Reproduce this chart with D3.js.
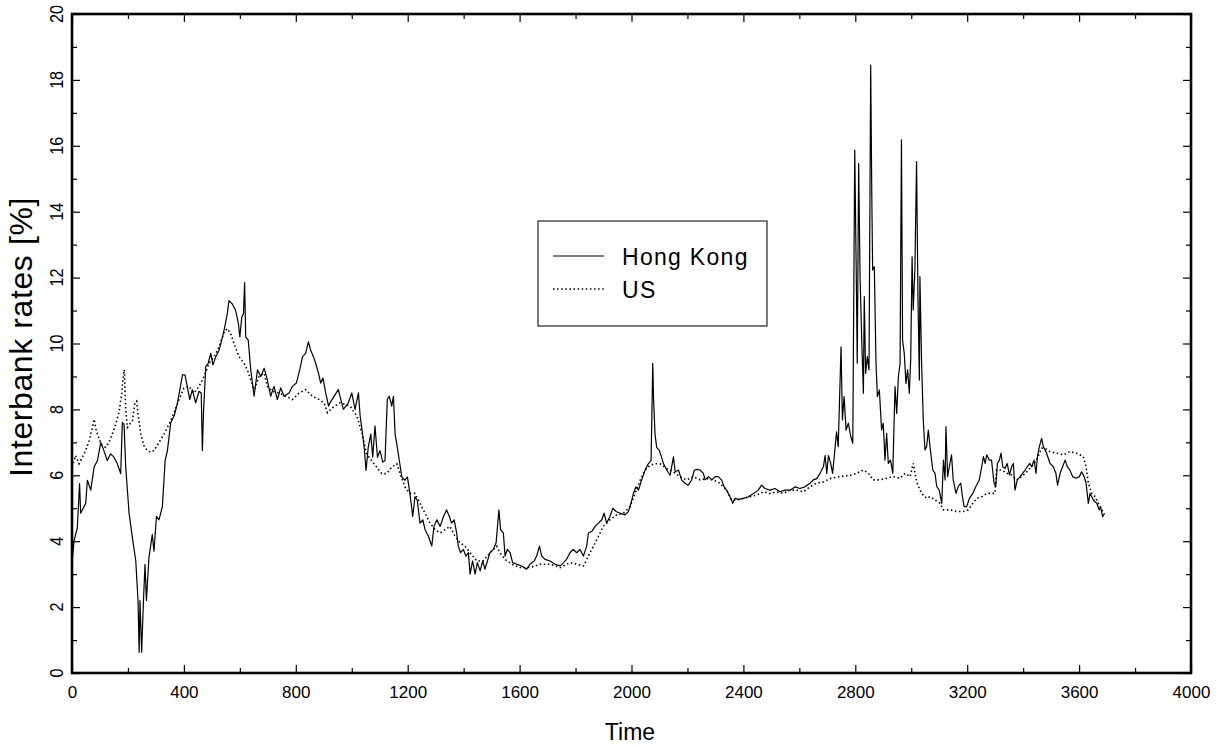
<!DOCTYPE html>
<html>
<head>
<meta charset="utf-8">
<script src="https://cdn.jsdelivr.net/npm/d3@7"></script>
<style>
  html, body { margin: 0; padding: 0; background: #fff; }
  svg text { font-family: "Liberation Sans", Arial, Helvetica, sans-serif; fill: #000; }
</style>
</head>
<body>
<svg id="chart" width="1220" height="745"></svg>
<script>
// Hong Kong interbank rate (time index, percent)
const hkTime = [0, 7, 19, 27, 31, 49, 55, 67, 79, 91, 103, 114, 126, 138, 150, 162, 174, 180, 186, 192,
  204, 216, 228, 236, 240, 243, 249, 255, 261, 266, 275, 287, 293, 302, 311, 323, 333, 341, 353, 365,
  377, 395, 404, 412, 421, 430, 442, 454, 462, 466, 470, 478, 487, 496, 504, 514, 526, 538, 546, 555,
  561, 573, 585, 595, 600, 607, 613, 617, 621, 630, 639, 651, 663, 675, 687, 698, 710, 722, 734, 746,
  758, 776, 788, 802, 814, 824, 835, 845, 853, 863, 871, 881, 889, 897, 907, 917, 922, 952, 970, 988,
  1000, 1012, 1024, 1030, 1038, 1045, 1051, 1059, 1068, 1075, 1083, 1092, 1101, 1111, 1119, 1127, 1134, 1143, 1149, 1155,
  1163, 1170, 1179, 1190, 1199, 1208, 1218, 1226, 1234, 1244, 1254, 1262, 1274, 1286, 1294, 1304, 1316, 1328, 1339, 1349,
  1357, 1366, 1375, 1381, 1389, 1399, 1408, 1417, 1423, 1432, 1441, 1449, 1459, 1468, 1476, 1485, 1494, 1506, 1516, 1522,
  1526, 1532, 1542, 1548, 1556, 1566, 1575, 1590, 1607, 1625, 1637, 1652, 1661, 1671, 1679, 1691, 1709, 1727, 1745, 1757,
  1768, 1780, 1792, 1804, 1816, 1828, 1840, 1846, 1858, 1870, 1882, 1894, 1902, 1911, 1923, 1933, 1945, 1959, 1977, 1989,
  1998, 2007, 2016, 2025, 2036, 2048, 2060, 2070, 2076, 2079, 2084, 2090, 2100, 2114, 2126, 2138, 2150, 2156, 2168, 2179,
  2191, 2203, 2215, 2225, 2233, 2245, 2257, 2263, 2275, 2287, 2299, 2310, 2322, 2331, 2340, 2352, 2362, 2370, 2382, 2400,
  2418, 2436, 2453, 2465, 2477, 2495, 2513, 2531, 2549, 2567, 2585, 2602, 2620, 2638, 2650, 2662, 2674, 2686, 2692, 2698,
  2704, 2712, 2719, 2727, 2733, 2739, 2749, 2754, 2760, 2767, 2775, 2784, 2791, 2798, 2803, 2807, 2812, 2817, 2823, 2829,
  2832, 2837, 2843, 2849, 2855, 2859, 2862, 2868, 2874, 2879, 2886, 2894, 2900, 2906, 2912, 2918, 2926, 2934, 2942, 2948,
  2954, 2960, 2965, 2969, 2975, 2981, 2987, 2993, 2998, 3003, 3007, 3013, 3019, 3024, 3029, 3031, 3037, 3043, 3049, 3055,
  3061, 3067, 3077, 3085, 3091, 3100, 3109, 3115, 3121, 3124, 3130, 3136, 3144, 3150, 3160, 3168, 3177, 3183, 3189, 3198,
  3208, 3220, 3231, 3243, 3252, 3258, 3264, 3270, 3279, 3287, 3296, 3302, 3308, 3315, 3321, 3327, 3335, 3343, 3351, 3359,
  3365, 3371, 3379, 3389, 3398, 3407, 3415, 3424, 3430, 3439, 3446, 3451, 3458, 3466, 3472, 3484, 3496, 3508, 3517, 3523,
  3532, 3541, 3550, 3558, 3567, 3577, 3589, 3601, 3609, 3618, 3625, 3629, 3633, 3639, 3651, 3663, 3672, 3677, 3684, 3691];
const hkRate = [3.3, 4.0, 4.4, 5.75, 4.85, 5.15, 5.85, 5.55, 6.25, 6.45, 7.0, 6.75, 6.45, 6.65, 6.55, 6.35, 6.05, 7.6, 7.55, 6.25,
  4.85, 4.1, 3.4, 2.2, 0.63, 2.2, 0.63, 2.1, 3.3, 2.2, 3.5, 4.2, 3.7, 4.75, 4.65, 5.05, 6.45, 6.75, 7.6, 7.8,
  8.2, 9.05, 9.05, 8.7, 8.3, 8.6, 8.2, 8.55, 8.5, 6.75, 7.9, 9.3, 9.4, 9.7, 9.35, 9.6, 9.8, 10.2, 10.5, 10.9,
  11.3, 11.2, 11.0, 10.6, 10.2, 10.8, 10.9, 11.85, 10.2, 10.1, 9.2, 8.4, 9.2, 9.0, 9.25, 8.9, 8.4, 8.7, 8.3, 8.65,
  8.4, 8.5, 8.7, 8.8, 9.2, 9.6, 9.7, 10.05, 9.8, 9.6, 9.4, 9.1, 8.8, 8.95, 8.5, 8.1, 8.2, 8.6, 8.0, 8.2,
  8.5, 8.0, 8.5, 7.8, 7.3, 6.8, 6.15, 6.85, 7.25, 6.55, 7.5, 6.55, 6.75, 6.4, 6.45, 8.3, 8.4, 8.1, 8.4, 7.25,
  6.85, 6.45, 5.95, 5.85, 5.95, 5.45, 4.75, 5.35, 5.25, 4.55, 4.65, 4.35, 4.15, 3.85, 4.45, 4.65, 4.45, 4.75, 4.95, 4.75,
  4.55, 4.65, 4.25, 3.85, 3.65, 3.75, 3.55, 3.65, 3.0, 3.4, 3.0, 3.35, 3.1, 3.4, 3.15, 3.4, 3.65, 3.75, 3.95, 4.55,
  4.95, 4.35, 4.25, 3.55, 3.75, 3.65, 3.35, 3.3, 3.25, 3.15, 3.3, 3.4, 3.55, 3.85, 3.55, 3.45, 3.4, 3.3, 3.25, 3.35,
  3.45, 3.65, 3.75, 3.65, 3.75, 3.55, 3.85, 4.25, 4.3, 4.45, 4.55, 4.65, 4.85, 4.55, 4.75, 5.0, 4.9, 4.85, 4.8, 4.9,
  5.15, 5.45, 5.65, 5.55, 5.85, 6.15, 6.35, 6.45, 9.4, 8.3, 7.25, 6.85, 6.75, 6.36, 6.16, 6.0, 6.56, 6.1, 6.16, 5.86,
  5.76, 5.7, 5.86, 6.16, 6.18, 6.16, 6.06, 5.86, 5.96, 5.86, 5.96, 5.96, 5.86, 5.65, 5.55, 5.35, 5.15, 5.3, 5.27, 5.3,
  5.35, 5.45, 5.55, 5.7, 5.6, 5.55, 5.6, 5.5, 5.55, 5.55, 5.65, 5.6, 5.65, 5.76, 5.86, 5.9, 6.06, 6.26, 6.6, 6.06,
  6.6, 6.36, 6.06, 6.77, 7.32, 6.87, 9.9, 7.68, 8.39, 7.37, 7.58, 7.17, 6.97, 15.87, 12.43, 9.4, 15.47, 12.03, 10.1, 8.49,
  11.42, 9.09, 9.6, 9.2, 18.45, 14.46, 12.23, 12.33, 9.4, 8.39, 8.59, 7.37, 7.58, 6.46, 7.27, 6.36, 6.46, 6.06, 8.69, 7.88,
  8.99, 9.4, 16.18, 10.1, 9.7, 8.79, 9.2, 8.49, 9.5, 12.63, 11.02, 12.23, 15.52, 11.42, 8.89, 12.03, 9.4, 7.68, 6.77, 6.87,
  7.37, 6.87, 6.16, 6.06, 5.66, 5.55, 5.15, 6.46, 5.86, 7.48, 5.96, 6.26, 6.62, 5.86, 5.45, 5.66, 5.76, 5.35, 5.05, 5.05,
  5.3, 5.45, 5.66, 5.86, 6.26, 6.57, 6.36, 6.62, 6.46, 6.46, 5.76, 5.66, 6.36, 6.46, 6.67, 6.26, 6.21, 6.36, 6.01, 6.26,
  6.36, 5.55, 5.86, 5.96, 6.06, 6.16, 6.26, 6.36, 6.26, 6.46, 6.06, 6.57, 6.87, 7.12, 6.87, 6.67, 6.36, 6.26, 6.06, 5.7,
  6.06, 6.26, 6.46, 6.26, 6.16, 5.96, 5.91, 5.96, 6.11, 5.96, 5.76, 5.45, 5.15, 5.45, 5.25, 5.15, 4.95, 5.05, 4.74, 4.85];

// US interbank rate
const usTime = [0, 13, 25, 37, 49, 61, 73, 79, 87, 97, 108, 120, 132, 144, 156, 168, 178, 182, 187, 192,
  198, 206, 216, 225, 231, 237, 246, 257, 269, 281, 293, 311, 329, 347, 365, 383, 400, 418, 436, 454,
  472, 490, 508, 526, 544, 555, 567, 579, 597, 615, 627, 639, 651, 669, 687, 698, 716, 740, 764, 788,
  812, 835, 859, 883, 901, 913, 931, 958, 994, 1018, 1036, 1053, 1071, 1089, 1107, 1125, 1143, 1161, 1173, 1190,
  1208, 1226, 1244, 1262, 1280, 1298, 1316, 1333, 1351, 1369, 1387, 1405, 1423, 1447, 1470, 1494, 1518, 1530, 1548, 1572,
  1601, 1637, 1673, 1709, 1745, 1780, 1804, 1828, 1846, 1864, 1882, 1899, 1923, 1947, 1971, 1995, 2013, 2031, 2048, 2066,
  2084, 2102, 2126, 2150, 2173, 2197, 2221, 2245, 2269, 2293, 2316, 2340, 2358, 2376, 2400, 2424, 2448, 2471, 2495, 2519,
  2543, 2567, 2590, 2614, 2638, 2662, 2686, 2710, 2745, 2781, 2805, 2829, 2847, 2864, 2888, 2912, 2936, 2960, 2978, 2996,
  3007, 3019, 3037, 3055, 3067, 3085, 3103, 3115, 3139, 3162, 3186, 3204, 3216, 3234, 3252, 3270, 3299, 3305, 3323, 3341,
  3359, 3377, 3395, 3413, 3430, 3448, 3466, 3478, 3496, 3520, 3544, 3567, 3591, 3615, 3625, 3633, 3645, 3657, 3669, 3681, 3689];
const usRate = [6.25, 6.6, 6.35, 6.55, 6.75, 7.05, 7.45, 7.7, 7.35, 7.1, 6.9, 6.85, 7.0, 7.25, 7.55, 7.9, 8.5, 8.9, 9.2, 8.0,
  7.45, 7.55, 7.65, 8.2, 8.25, 7.8, 7.25, 6.9, 6.75, 6.7, 6.75, 7.0, 7.25, 7.55, 7.9, 8.3, 8.65, 8.7, 8.5, 8.7,
  9.0, 9.4, 9.6, 9.9, 10.35, 10.45, 10.3, 10.0, 9.6, 9.4, 9.2, 8.9, 8.6, 9.0, 9.1, 8.7, 8.55, 8.5, 8.4, 8.3,
  8.5, 8.6, 8.4, 8.3, 8.2, 7.9, 8.05, 8.2, 8.1, 7.8, 7.3, 6.65, 6.45, 6.25, 6.05, 6.05, 6.25, 6.35, 6.05, 5.65,
  5.45, 5.45, 5.15, 4.85, 4.55, 4.35, 4.25, 4.35, 4.45, 4.15, 3.95, 3.85, 3.65, 3.4, 3.4, 3.65, 3.85, 3.65, 3.45, 3.3,
  3.2, 3.2, 3.3, 3.3, 3.2, 3.35, 3.3, 3.25, 3.55, 3.85, 4.15, 4.45, 4.65, 4.8, 4.85, 5.05, 5.45, 5.85, 6.15, 6.3,
  6.35, 6.35, 6.2, 6.1, 5.96, 5.86, 5.96, 5.86, 5.9, 5.86, 5.76, 5.55, 5.25, 5.25, 5.3, 5.35, 5.4, 5.5, 5.45, 5.5,
  5.45, 5.55, 5.55, 5.5, 5.65, 5.76, 5.8, 5.9, 5.96, 6.0, 6.06, 6.16, 6.06, 5.86, 5.86, 5.91, 5.96, 5.91, 6.06, 5.96,
  6.36, 5.8, 5.45, 5.3, 5.35, 5.25, 5.15, 4.95, 4.95, 4.9, 4.9, 4.95, 5.1, 5.3, 5.35, 5.45, 5.45, 6.16, 6.16, 6.06,
  6.01, 5.86, 5.96, 6.11, 6.26, 6.46, 6.82, 6.82, 6.72, 6.67, 6.62, 6.72, 6.67, 6.57, 6.26, 5.76, 5.45, 5.35, 5.15, 4.95, 4.85];

// axis ticks
const xMajorTicks = [0, 400, 800, 1200, 1600, 2000, 2400, 2800, 3200, 3600, 4000];
const xMinorTicks = [200, 600, 1000, 1400, 1800, 2200, 2600, 3000, 3400, 3800];
const yMajorTicks = [0, 2, 4, 6, 8, 10, 12, 14, 16, 18, 20];
const yMinorTicks = [1, 3, 5, 7, 9, 11, 13, 15, 17, 19];

const seriesNames = ['Hong Kong', 'US'];

const svg = d3.select('#chart');
const width = +svg.attr('width');
const height = +svg.attr('height');
const margin = { top: 14, right: 29, bottom: 72, left: 72 };

const x = d3.scaleLinear().domain([0, 4000]).range([margin.left, width - margin.right]);
const y = d3.scaleLinear().domain([0, 20]).range([height - margin.bottom, margin.top]);

// data lines
const line = d3.line().x(d => x(d[0])).y(d => y(d[1]));
const hkData = hkTime.map((t, i) => [t, hkRate[i]]);
const usData = usTime.map((t, i) => [t, usRate[i]]);

svg.append('path')
  .datum(usData)
  .attr('d', line)
  .attr('fill', 'none')
  .attr('stroke', '#000')
  .attr('stroke-width', 1.6)
  .attr('stroke-dasharray', '1.5,2.6');

svg.append('path')
  .datum(hkData)
  .attr('d', line)
  .attr('fill', 'none')
  .attr('stroke', '#000')
  .attr('stroke-width', 1.2)
  .attr('stroke-linejoin', 'round');

// ticks on all four sides, pointing inward
const bottom = height - margin.bottom;
const right = width - margin.right;
const tickGroups = [
  [d3.axisBottom(x).tickValues(xMajorTicks).tickSize(-8).tickPadding(13).tickFormat(d3.format('d')), `translate(0,${bottom})`],
  [d3.axisBottom(x).tickValues(xMinorTicks).tickSize(-5).tickFormat(''), `translate(0,${bottom})`],
  [d3.axisTop(x).tickValues(xMajorTicks).tickSize(-8).tickFormat(''), `translate(0,${margin.top})`],
  [d3.axisTop(x).tickValues(xMinorTicks).tickSize(-5).tickFormat(''), `translate(0,${margin.top})`],
  [d3.axisLeft(y).tickValues(yMajorTicks).tickSize(-8).tickFormat(''), `translate(${margin.left},0)`],
  [d3.axisLeft(y).tickValues(yMinorTicks).tickSize(-5).tickFormat(''), `translate(${margin.left},0)`],
  [d3.axisRight(y).tickValues(yMajorTicks).tickSize(-8).tickFormat(''), `translate(${right},0)`],
  [d3.axisRight(y).tickValues(yMinorTicks).tickSize(-5).tickFormat(''), `translate(${right},0)`]
];
tickGroups.forEach(([axis, tr]) => {
  const g = svg.append('g').attr('transform', tr).call(axis);
  g.select('.domain').remove();
  g.selectAll('.tick line').attr('stroke', '#000').attr('stroke-width', 1.2);
  g.selectAll('.tick text')
    .attr('font-size', 17)
    .attr('font-family', '"Liberation Sans", Arial, sans-serif')
    .attr('fill', '#000');
});

// rotated y tick labels
svg.append('g')
  .selectAll('text')
  .data(yMajorTicks)
  .enter()
  .append('text')
  .attr('transform', d => `translate(63,${y(d)}) rotate(-90) scale(0.85,1)`)
  .attr('text-anchor', 'middle')
  .attr('font-size', 19)
  .text(d => d);

// frame
svg.append('rect')
  .attr('x', margin.left)
  .attr('y', margin.top)
  .attr('width', right - margin.left)
  .attr('height', bottom - margin.top)
  .attr('fill', 'none')
  .attr('stroke', '#000')
  .attr('stroke-width', 2.6);

// axis titles
svg.append('text')
  .attr('x', 630)
  .attr('y', 740)
  .attr('text-anchor', 'middle')
  .attr('font-size', 23)
  .text('Time');

svg.append('text')
  .attr('transform', 'translate(32,477) rotate(-90)')
  .attr('text-anchor', 'start')
  .attr('font-size', 32)
  .attr('letter-spacing', 0.6)
  .text('Interbank rates [%]');

// legend
const legend = svg.append('g');
legend.append('rect')
  .attr('x', 538)
  .attr('y', 221)
  .attr('width', 229)
  .attr('height', 105)
  .attr('fill', '#fff')
  .attr('stroke', '#222')
  .attr('stroke-width', 1.2);

const legendStyles = [
  { dash: null, width: 1.1 },
  { dash: '1.5,2.6', width: 1.6 }
];
seriesNames.forEach((name, i) => {
  const ly = 256 + i * 33;
  legend.append('line')
    .attr('x1', 553).attr('x2', 604)
    .attr('y1', ly).attr('y2', ly)
    .attr('stroke', '#000')
    .attr('stroke-width', legendStyles[i].width)
    .attr('stroke-dasharray', legendStyles[i].dash);
  legend.append('text')
    .attr('x', 622)
    .attr('y', ly + 9)
    .attr('font-size', 23)
    .attr('letter-spacing', 1.3)
    .text(name);
});
</script>
</body>
</html>
